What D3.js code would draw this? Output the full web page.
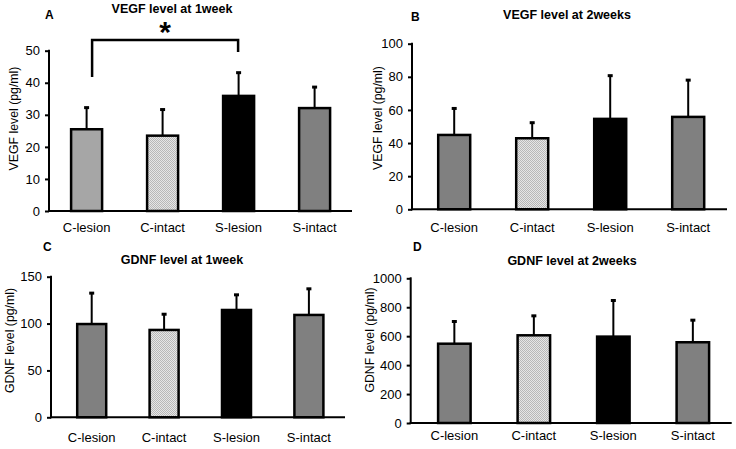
<!DOCTYPE html>
<html>
<head>
<meta charset="utf-8">
<script src="https://cdn.jsdelivr.net/npm/d3@7/dist/d3.min.js"></script>
<style>
  html, body { margin: 0; padding: 0; background: #fff; }
  svg { display: block; font-family: "Liberation Sans", Arial, sans-serif; }
</style>
</head>
<body>
<svg id="chart" width="736" height="449"></svg>
<script>
// ---- data ----
const categories = ["C-lesion", "C-intact", "S-lesion", "S-intact"];

const vegf1wMean = [25.5, 23.5, 35.9, 32.1];
const vegf1wErr  = [32.4, 31.8, 43.3, 38.8];

const vegf2wMean = [44.9, 42.9, 54.6, 55.8];
const vegf2wErr  = [61.2, 52.6, 81.0, 78.3];

const gdnf1wMean = [99.5, 93.2, 114.5, 109.2];
const gdnf1wErr  = [133.0, 110.5, 131.2, 137.6];

const gdnf2wMean = [548, 606, 597, 558];
const gdnf2wErr  = [705, 744, 850, 714];

const vegf1wTicks = [0, 10, 20, 30, 40, 50];
const vegf2wTicks = [0, 20, 40, 60, 80, 100];
const gdnf1wTicks = [0, 50, 100, 150];
const gdnf2wTicks = [0, 200, 400, 600, 800, 1000];

const titles = ["VEGF level at 1week", "VEGF level at 2weeks", "GDNF level at 1week", "GDNF level at 2weeks"];
const panelLetters = ["A", "B", "C", "D"];
const yLabels = ["VEGF level (pg/ml)", "VEGF level (pg/ml)", "GDNF level (pg/ml)", "GDNF level (pg/ml)"];

// significance bracket (panel A): from C-lesion to S-lesion, levels in axis units
const sigPair = ["C-lesion", "S-lesion"];
const sigLevels = { left: 41.8, top: 53.3, right: 49.6 };

// ---- drawing ----
const svg = d3.select("#chart");
const defs = svg.append("defs");
const pat = defs.append("pattern").attr("id", "hatch")
  .attr("patternUnits", "userSpaceOnUse").attr("width", 2).attr("height", 2);
pat.append("rect").attr("width", 2).attr("height", 2).attr("fill", "#e6e6e6");
pat.append("rect").attr("width", 1).attr("height", 1).attr("fill", "#b8b8b8");
pat.append("rect").attr("x", 1).attr("y", 1).attr("width", 1).attr("height", 1).attr("fill", "#b8b8b8");

const panels = [
  { mean: vegf1wMean, err: vegf1wErr, ticks: vegf1wTicks, max: 50,
    axX0: 49, axX1: 352, band: [48.6, 352.6], y0: 211, yTop: 50.7, barW: 31,
    fills: ["#a6a6a6", "url(#hatch)", "#000", "#808080"],
    title: [172, 8.5], letter: [45, 15], ylab: [14, 118.5], xlabY: 232 },
  { mean: vegf2wMean, err: vegf2wErr, ticks: vegf2wTicks, max: 100,
    axX0: 412, axX1: 727, band: [415.2, 727.2], y0: 209.3, yTop: 43.7, barW: 32,
    fills: ["#808080", "url(#hatch)", "#000", "#808080"],
    title: [567, 15], letter: [411, 16.5], ylab: [378, 118], xlabY: 232 },
  { mean: gdnf1wMean, err: gdnf1wErr, ticks: gdnf1wTicks, max: 150,
    axX0: 51, axX1: 345, band: [55.5, 345.1], y0: 417.3, yTop: 276.7, barW: 29,
    fills: ["#808080", "url(#hatch)", "#000", "#808080"],
    title: [182, 260], letter: [43, 247], ylab: [10, 340.5], xlabY: 441.5 },
  { mean: gdnf2wMean, err: gdnf2wErr, ticks: gdnf2wTicks, max: 1000,
    axX0: 410.7, axX1: 731.7, band: [414.6, 732.6], y0: 423, yTop: 278.3, barW: 32.5,
    fills: ["#808080", "url(#hatch)", "#000", "#808080"],
    title: [572, 261], letter: [413, 247], ylab: [370, 340], xlabY: 440 }
];

panels.forEach((p, i) => {
  const g = svg.append("g");
  const x = d3.scaleBand().domain(categories).range(p.band);
  const y = d3.scaleLinear().domain([0, p.max]).range([p.y0, p.yTop]);
  const cx = d => x(d) + x.bandwidth() / 2;

  // bars
  g.selectAll("rect.bar").data(categories).enter().append("rect")
    .attr("class", "bar")
    .attr("x", d => cx(d) - p.barW / 2)
    .attr("width", p.barW)
    .attr("y", (d, k) => y(p.mean[k]))
    .attr("height", (d, k) => y(0) - y(p.mean[k]))
    .attr("fill", (d, k) => p.fills[k])
    .attr("stroke", "#000").attr("stroke-width", 2.5);

  // error bars
  g.selectAll("line.err").data(categories).enter().append("line")
    .attr("x1", cx).attr("x2", cx)
    .attr("y1", (d, k) => y(p.mean[k]))
    .attr("y2", (d, k) => y(p.err[k]))
    .attr("stroke", "#000").attr("stroke-width", 2);
  g.selectAll("line.cap").data(categories).enter().append("line")
    .attr("x1", d => cx(d) - 2.5)
    .attr("x2", d => cx(d) + 2.5)
    .attr("y1", (d, k) => y(p.err[k]) + 0.5)
    .attr("y2", (d, k) => y(p.err[k]) + 0.5)
    .attr("stroke", "#000").attr("stroke-width", 3);

  // y axis
  const ya = g.append("g").attr("transform", `translate(${p.axX0},0)`)
    .call(d3.axisLeft(y).tickValues(p.ticks).tickSize(4).tickPadding(5).tickFormat(d3.format("d")));
  ya.select(".domain").remove();
  ya.selectAll(".tick line").attr("stroke", "#000").attr("stroke-width", 2);
  ya.selectAll(".tick text").attr("font-size", 13).attr("fill", "#000")
    .attr("font-family", "Liberation Sans, Arial, sans-serif");
  g.append("line").attr("x1", p.axX0).attr("x2", p.axX0)
    .attr("y1", y(p.max) - 1).attr("y2", p.y0 + 1)
    .attr("stroke", "#000").attr("stroke-width", 2);

  // x axis
  g.append("line").attr("x1", p.axX0 - 1).attr("x2", p.axX1)
    .attr("y1", p.y0).attr("y2", p.y0)
    .attr("stroke", "#000").attr("stroke-width", 2);
  g.selectAll("text.xl").data(categories).enter().append("text")
    .attr("x", cx)
    .attr("y", p.xlabY)
    .attr("text-anchor", "middle").attr("font-size", 13).attr("fill", "#000")
    .text(d => d);

  // title
  g.append("text").attr("x", p.title[0]).attr("y", p.title[1])
    .attr("dy", "0.35em").attr("text-anchor", "middle")
    .attr("font-size", 12.5).attr("font-weight", "bold").text(titles[i]);
  // panel letter
  g.append("text").attr("x", p.letter[0]).attr("y", p.letter[1])
    .attr("dy", "0.35em").attr("font-size", 12).attr("font-weight", "bold").text(panelLetters[i]);
  // y label
  g.append("text").attr("transform", `translate(${p.ylab[0]},${p.ylab[1]}) rotate(-90)`)
    .attr("dy", "0.35em").attr("text-anchor", "middle").attr("font-size", 12.3)
    .text(yLabels[i]);

  // significance bracket for panel A
  if (i === 0) {
    const xl = cx(sigPair[0]) + 5.5;
    const xr = cx(sigPair[1]) - 0.5;
    g.append("path")
      .attr("d", `M${xl},${y(sigLevels.left)}V${y(sigLevels.top)}H${xr}V${y(sigLevels.right)}`)
      .attr("fill", "none").attr("stroke", "#000").attr("stroke-width", 2.5);
    g.append("text").attr("x", (xl + xr) / 2).attr("y", 42)
      .attr("text-anchor", "middle").attr("font-size", 30).attr("font-weight", "bold")
      .text("*");
  }
});
</script>
</body>
</html>
